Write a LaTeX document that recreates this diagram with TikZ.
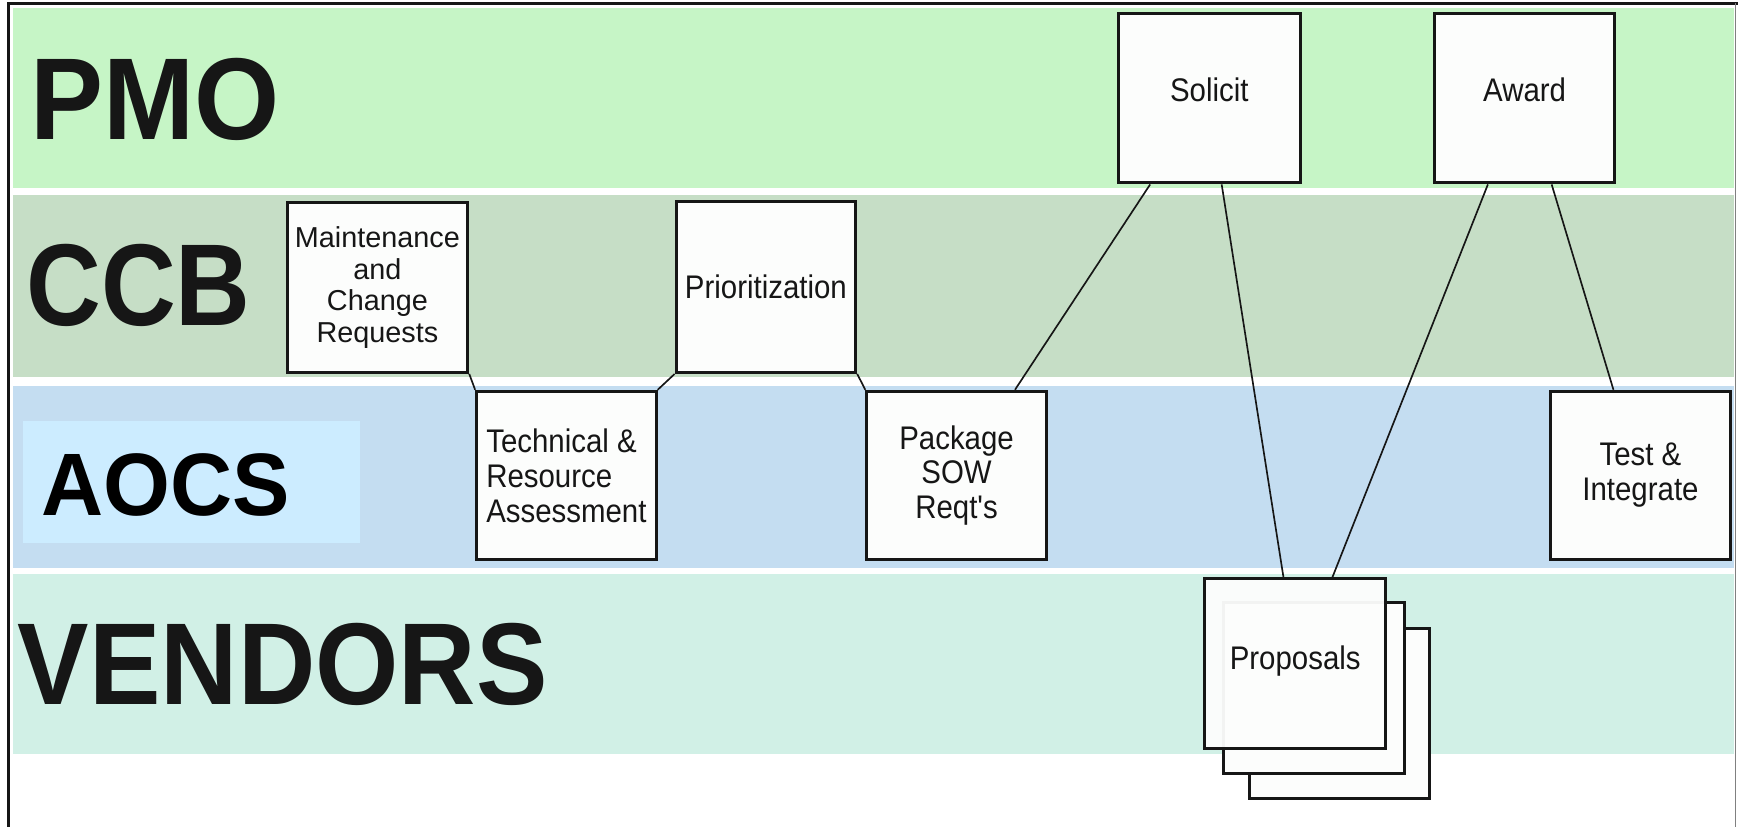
\documentclass[tikz,border=0pt]{standalone}
\usepackage{fontspec}
\setmainfont{Liberation Sans}
\newfontfamily\boxfont[FakeStretch=0.9]{Liberation Sans}
\newfontfamily\smallboxfont{Liberation Sans}
\newfontfamily\bigfont[FakeStretch=0.94]{Liberation Sans}
\newfontfamily\ccbfont[FakeStretch=0.89]{Liberation Sans}
\newfontfamily\vendfont[FakeStretch=0.92]{Liberation Sans}
\newfontfamily\aocsfont[FakeStretch=0.97]{Liberation Sans}
\usetikzlibrary{calc}
\definecolor{pmoband}{RGB}{198,245,198}
\definecolor{ccbband}{RGB}{198,222,198}
\definecolor{aocsband}{RGB}{196,221,241}
\definecolor{aocslab}{RGB}{204,236,255}
\definecolor{vendband}{RGB}{209,240,230}
\definecolor{boxfill}{RGB}{252,253,252}
\definecolor{ink}{RGB}{22,22,22}
\tikzset{
  procbox/.style={draw=ink, line width=2.7pt, fill=boxfill, inner sep=0pt,
    minimum width=163pt, minimum height=153pt, align=center,
    font=\boxfont\fontsize{29.5}{31.5}\selectfont, text=ink},
  bandlabel/.style={anchor=base west, inner sep=0pt, text=ink,
    font=\bigfont\bfseries\fontsize{105}{105}\selectfont},
  conn/.style={draw=ink, line width=1.5pt}
}
\begin{document}
\begin{tikzpicture}[x=1pt,y=-1pt]
\useasboundingbox (0,0) rectangle (1568,746);
\fill[white] (0,0) rectangle (1568,746);
% bands
\fill[pmoband] (12,7) rectangle (1564,170);
\fill[ccbband] (12,176) rectangle (1564,340);
\fill[aocsband] (12,348) rectangle (1564,512);
\fill[vendband] (12,518) rectangle (1564,680);
\fill[aocslab] (21,380) rectangle (325,490);
% frame
\draw[line width=2.5pt, ink] (8,746) -- (8,3) -- (1568,3);
\draw[line width=1.2pt, gray] (1566,3) -- (1566,746);
% lane labels
\node[bandlabel] (lpmo) at (27,126) {PMO};
\node[bandlabel, font=\ccbfont\bfseries\fontsize{105}{105}\selectfont] (lccb) at (23.5,294) {CCB};
\node[bandlabel, font=\vendfont\bfseries\fontsize{105}{105}\selectfont] (lvend) at (16,636) {VENDORS};
\node[anchor=base west, inner sep=0pt, text=black,
  font=\aocsfont\bfseries\fontsize{80}{80}\selectfont] (laocs) at (37,465) {AOCS};
% process boxes
\node[procbox, font=\smallboxfont\fontsize{26}{28.5}\selectfont] (maint) at (340.5,259.5) {Maintenance\\and\\Change\\Requests};
\node[procbox, minimum width=162pt, minimum height=152pt, align=left] (tech) at (511,429) {Technical \&\\Resource\\Assessment};
\node[procbox, minimum width=162pt, minimum height=154pt] (prior) at (691,259) {Prioritization};
\node[procbox, minimum width=162pt, minimum height=152pt] (pkg) at (863,429) {Package\\SOW\\Reqt's};
\node[procbox, minimum width=164pt, text depth=15pt] (sol) at (1091,88.5) {Solicit};
\node[procbox, text depth=15pt] (award) at (1375.5,88.5) {Award};
\node[procbox, minimum width=162pt, minimum height=152pt] (test) at (1480,429) {Test \&\\Integrate};
\node[procbox, minimum height=153pt] (prop3) at (1208.5,643.5) {};
\node[procbox, minimum height=154pt] (prop2) at (1185.5,621) {};
\node[procbox, fill opacity=0.96, text opacity=1, text depth=10pt] (prop1) at (1168.5,598.5) {Proposals};
% connectors
\draw[conn] (maint.south east) -- (tech.north west);
\draw[conn] (tech.north east) -- (prior.south west);
\draw[conn] (prior.south east) -- (pkg.north west);
\draw[conn] ($(sol.south west)!0.18!(sol.south east)$) -- ($(pkg.north west)!0.82!(pkg.north east)$);
\draw[conn] ($(sol.south west)!0.567!(sol.south east)$) -- ($(prop1.north west)!0.436!(prop1.north east)$);
\draw[conn] ($(award.south west)!0.30!(award.south east)$) -- ($(prop1.north west)!0.703!(prop1.north east)$);
\draw[conn] ($(award.south west)!0.647!(award.south east)$) -- ($(test.north west)!0.352!(test.north east)$);
\end{tikzpicture}
\end{document}
